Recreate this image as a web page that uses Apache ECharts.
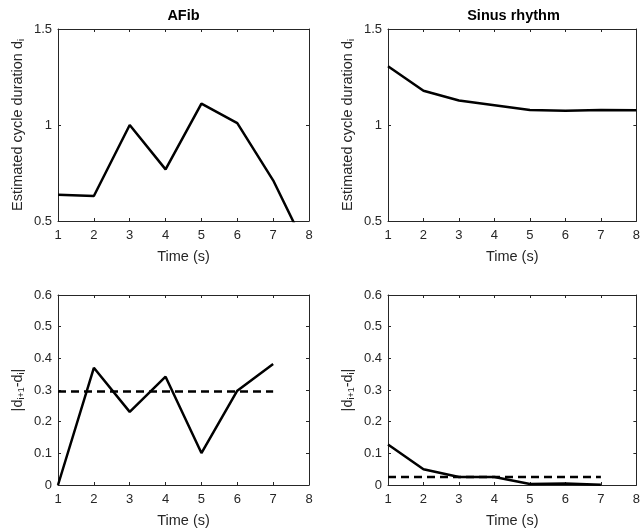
<!DOCTYPE html>
<html>
<head>
<meta charset="utf-8">
<script src="https://cdn.jsdelivr.net/npm/echarts@6/dist/echarts.min.js"></script>
<style>
  html, body { margin: 0; padding: 0; background: #fff; }
  #chart { width: 643px; height: 529px; }
</style>
</head>
<body>
<div id="chart"></div>
<script>
// time points (s)
const times = [1, 2, 3, 4, 5, 6, 7, 8];
const diffTimes = [1, 2, 3, 4, 5, 6, 7];

// estimated cycle duration d_i
const afibDur = [0.637, 0.63, 1.0, 0.769, 1.111, 1.01, 0.712, 0.33];
const sinusDur = [1.306, 1.178, 1.128, 1.103, 1.078, 1.074, 1.078, 1.077];

// |d_{i+1} - d_i|
const afibDiff = [0, 0.37, 0.231, 0.342, 0.101, 0.298, 0.382];
const sinusDiff = [0.128, 0.05, 0.025, 0.025, 0.003, 0.005, 0.001];

// dashed mean levels
const afibMean = 0.295;
const sinusMean = 0.025;

const titles = ['AFib', 'Sinus rhythm'];

const FONT = 'Liberation Sans, Arial, sans-serif';
const INK = '#262626';

const grids = [
    { left: 58, top: 29, width: 251, height: 192 },
    { left: 388, top: 29, width: 251, height: 192 },
    { left: 58, top: 295, width: 251, height: 193 },
    { left: 388, top: 295, width: 251, height: 193 },
];

const pairs = (xs, ys) => ys.map((y, i) => [xs[i], y]);

const subRich = {
    sub: { fontSize: 9, fontFamily: FONT, color: INK, verticalAlign: 'bottom', padding: [7, 0, 0, 0] },
};

const xAxes = [];
const yAxes = [];
grids.forEach((g, gi) => {
    const isTop = gi < 2;
    xAxes.push({
        type: 'value', gridIndex: gi, position: 'bottom',
        min: 1, max: 8, interval: 1,
        name: 'Time (s)', nameLocation: 'middle', nameGap: 28,
        nameTextStyle: { color: INK, fontSize: 14.5, fontFamily: FONT },
        axisLine: { show: true, onZero: false, lineStyle: { color: INK, width: 1 } },
        axisTick: { show: true, inside: true, length: 3, lineStyle: { color: INK } },
        axisLabel: { color: INK, fontSize: 13, fontFamily: FONT, margin: 8 },
        splitLine: { show: false },
    });
    xAxes.push({
        type: 'value', gridIndex: gi, position: 'top',
        min: 1, max: 8, interval: 1,
        axisLine: { show: true, onZero: false, lineStyle: { color: INK, width: 1 } },
        axisTick: { show: true, inside: true, length: 3, lineStyle: { color: INK } },
        axisLabel: { show: false },
        splitLine: { show: false },
    });
    const yName = isTop ? 'Estimated cycle duration d{sub|i}' : '|d{sub|i+1}-d{sub|i}|';
    yAxes.push({
        type: 'value', gridIndex: gi, position: 'left',
        min: isTop ? 0.5 : 0, max: isTop ? 1.5 : 0.6, interval: isTop ? 0.5 : 0.1,
        name: yName, nameLocation: 'middle', nameGap: 32,
        nameTextStyle: { color: INK, fontSize: 14.5, fontFamily: FONT, rich: subRich },
        axisLine: { show: true, onZero: false, lineStyle: { color: INK, width: 1 } },
        axisTick: { show: true, inside: true, length: 3, lineStyle: { color: INK } },
        axisLabel: { color: INK, fontSize: 13, fontFamily: FONT, margin: 6 },
        splitLine: { show: false },
    });
    yAxes.push({
        type: 'value', gridIndex: gi, position: 'right',
        min: isTop ? 0.5 : 0, max: isTop ? 1.5 : 0.6, interval: isTop ? 0.5 : 0.1,
        axisLine: { show: true, onZero: false, lineStyle: { color: INK, width: 1 } },
        axisTick: { show: true, inside: true, length: 3, lineStyle: { color: INK } },
        axisLabel: { show: false },
        splitLine: { show: false },
    });
});

const lineSeries = (gi, data, dashed) => ({
    type: 'line',
    xAxisIndex: gi * 2,
    yAxisIndex: gi * 2,
    data: data,
    showSymbol: false,
    symbol: 'none',
    clip: true,
    animation: false,
    lineStyle: { color: '#000', width: 2.5, type: dashed ? [8, 5] : 'solid' },
});

const option = {
    animation: false,
    title: titles.map((t, i) => ({
        text: t,
        left: grids[i].left + grids[i].width / 2,
        top: 8,
        padding: 0,
        textAlign: 'center',
        textStyle: { color: '#000', fontSize: 14.5, fontWeight: 'bold', fontFamily: FONT },
    })),
    grid: grids.map((g) => ({ ...g, containLabel: false })),
    xAxis: xAxes,
    yAxis: yAxes,
    series: [
        lineSeries(0, pairs(times, afibDur)),
        lineSeries(1, pairs(times, sinusDur)),
        lineSeries(2, pairs(diffTimes, afibDiff)),
        lineSeries(2, diffTimes.map((t) => [t, afibMean]), true),
        lineSeries(3, pairs(diffTimes, sinusDiff)),
        lineSeries(3, diffTimes.map((t) => [t, sinusMean]), true),
    ],
};

const chart = echarts.init(document.getElementById('chart'));
chart.setOption(option);
window.addEventListener('resize', chart.resize);
</script>
</body>
</html>
